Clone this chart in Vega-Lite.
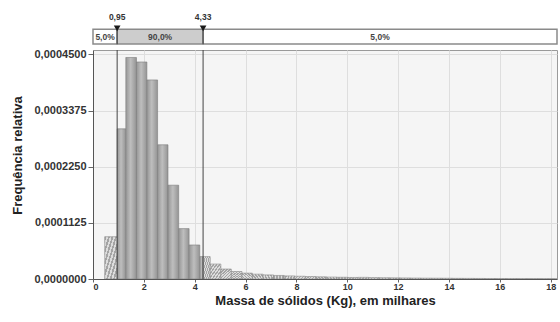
{
  "$schema": "https://vega.github.io/schema/vega-lite/v6.json",
  "padding": {"left": 11, "top": 5, "right": 0, "bottom": 0},
  "background": "white",
  "spacing": 2,
  "config": {
    "font": "Liberation Sans",
    "view": {"stroke": null},
    "axis": {"labelColor": "#333", "titleColor": "#222", "tickColor": "#666", "domainColor": "#555", "gridColor": "#dedede", "labelFontWeight": "bold"}
  },
  "datasets": {
    "bars": [
      {"x0": 0.46, "x1": 0.95, "freq": 0.0000848, "zone": "out"},
      {"x0": 0.95, "x1": 1.29, "freq": 0.000301, "zone": "in"},
      {"x0": 1.29, "x1": 1.71, "freq": 0.000444, "zone": "in"},
      {"x0": 1.71, "x1": 2.12, "freq": 0.000435, "zone": "in"},
      {"x0": 2.12, "x1": 2.54, "freq": 0.000399, "zone": "in"},
      {"x0": 2.54, "x1": 2.95, "freq": 0.000269, "zone": "in"},
      {"x0": 2.95, "x1": 3.37, "freq": 0.000188, "zone": "in"},
      {"x0": 3.37, "x1": 3.78, "freq": 0.000101, "zone": "in"},
      {"x0": 3.78, "x1": 4.20, "freq": 0.0000682, "zone": "in"},
      {"x0": 4.20, "x1": 4.33, "freq": 0.0000449, "zone": "in"},
      {"x0": 4.33, "x1": 4.61, "freq": 0.0000449, "zone": "out"},
      {"x0": 4.61, "x1": 5.03, "freq": 0.0000300, "zone": "out"},
      {"x0": 5.03, "x1": 5.44, "freq": 0.0000200, "zone": "out"},
      {"x0": 5.44, "x1": 5.86, "freq": 0.0000150, "zone": "out"},
      {"x0": 5.86, "x1": 6.27, "freq": 0.0000118, "zone": "out"},
      {"x0": 6.27, "x1": 6.69, "freq": 0.0000097, "zone": "out"},
      {"x0": 6.69, "x1": 7.10, "freq": 0.0000082, "zone": "out"},
      {"x0": 7.10, "x1": 7.52, "freq": 0.0000071, "zone": "out"},
      {"x0": 7.52, "x1": 7.93, "freq": 0.0000062, "zone": "out"},
      {"x0": 7.93, "x1": 8.35, "freq": 0.0000055, "zone": "out"},
      {"x0": 8.35, "x1": 8.76, "freq": 0.0000049, "zone": "out"},
      {"x0": 8.76, "x1": 9.18, "freq": 0.0000044, "zone": "out"},
      {"x0": 9.18, "x1": 9.59, "freq": 0.0000039, "zone": "out"},
      {"x0": 9.59, "x1": 10.01, "freq": 0.0000035, "zone": "out"},
      {"x0": 10.01, "x1": 10.42, "freq": 0.0000031, "zone": "out"},
      {"x0": 10.42, "x1": 10.84, "freq": 0.0000033, "zone": "out"},
      {"x0": 10.84, "x1": 11.25, "freq": 0.0000028, "zone": "out"},
      {"x0": 11.25, "x1": 11.67, "freq": 0.0000025, "zone": "out"},
      {"x0": 11.67, "x1": 12.08, "freq": 0.0000023, "zone": "out"},
      {"x0": 12.08, "x1": 12.50, "freq": 0.0000021, "zone": "out"},
      {"x0": 12.50, "x1": 12.91, "freq": 0.0000019, "zone": "out"},
      {"x0": 12.91, "x1": 13.33, "freq": 0.0000017, "zone": "out"},
      {"x0": 13.33, "x1": 13.74, "freq": 0.0000016, "zone": "out"},
      {"x0": 13.74, "x1": 14.16, "freq": 0.0000015, "zone": "out"},
      {"x0": 14.16, "x1": 14.57, "freq": 0.0000013, "zone": "out"},
      {"x0": 14.57, "x1": 14.99, "freq": 0.0000012, "zone": "out"},
      {"x0": 14.99, "x1": 15.40, "freq": 0.0000011, "zone": "out"},
      {"x0": 15.40, "x1": 15.82, "freq": 0.0000010, "zone": "out"},
      {"x0": 15.82, "x1": 16.23, "freq": 0.0000009, "zone": "out"},
      {"x0": 16.23, "x1": 16.65, "freq": 0.0000009, "zone": "out"},
      {"x0": 16.65, "x1": 17.06, "freq": 0.0000008, "zone": "out"},
      {"x0": 17.06, "x1": 17.48, "freq": 0.0000007, "zone": "out"},
      {"x0": 17.48, "x1": 17.89, "freq": 0.0000007, "zone": "out"},
      {"x0": 17.89, "x1": 18.25, "freq": 0.0000006, "zone": "out"}
    ],
    "band": [
      {"start": 0, "end": 0.95, "zone": "out", "label": "5,0%"},
      {"start": 0.95, "end": 4.33, "zone": "in", "label": "90,0%"},
      {"start": 4.33, "end": 18.25, "zone": "out", "label": "5,0%"}
    ],
    "cuts": [
      {"value": 0.95, "label": "0,95"},
      {"value": 4.33, "label": "4,33"}
    ]
  },
  "vconcat": [
    {
      "width": 464,
      "height": 39,
      "layer": [
        {
          "data": {"name": "band"},
          "mark": {"type": "rect", "stroke": "#8a8a8a", "strokeWidth": 1.5},
          "encoding": {
            "x": {"field": "start", "type": "quantitative", "scale": {"domain": [0, 18.25], "nice": false}, "axis": null},
            "x2": {"field": "end"},
            "y": {"datum": 0, "type": "quantitative", "scale": {"domain": [0, 1]}, "axis": null},
            "y2": {"datum": 0.377},
            "fill": {"field": "zone", "type": "nominal", "scale": {"domain": ["out", "in"], "range": ["#ffffff", "#cdcdcd"]}, "legend": null}
          }
        },
        {
          "data": {"name": "band"},
          "transform": [{"calculate": "(datum.start + datum.end) / 2", "as": "mid"}],
          "mark": {"type": "text", "fontSize": 8.5, "fontWeight": "bold", "color": "#444"},
          "encoding": {
            "x": {"field": "mid", "type": "quantitative"},
            "y": {"datum": 0.19, "type": "quantitative"},
            "text": {"field": "label"}
          }
        },
        {
          "data": {"name": "cuts"},
          "mark": {"type": "rule", "color": "#444", "strokeWidth": 1},
          "encoding": {
            "x": {"field": "value", "type": "quantitative"},
            "y": {"datum": 0, "type": "quantitative"},
            "y2": {"datum": 0.4}
          }
        },
        {
          "data": {"name": "cuts"},
          "mark": {"type": "point", "shape": "triangle-down", "filled": true, "color": "#1a1a1a", "size": 45, "opacity": 1},
          "encoding": {
            "x": {"field": "value", "type": "quantitative"},
            "y": {"datum": 0.4, "type": "quantitative"}
          }
        },
        {
          "data": {"name": "cuts"},
          "mark": {"type": "text", "fontSize": 8.5, "fontWeight": "bold", "color": "#333"},
          "encoding": {
            "x": {"field": "value", "type": "quantitative"},
            "y": {"datum": 0.69, "type": "quantitative"},
            "text": {"field": "label"}
          }
        }
      ]
    },
    {
      "width": 464,
      "height": 229,
      "view": {"fill": "#f5f5f5", "stroke": "#9a9a9a"},
      "layer": [
        {
          "data": {"name": "bars"},
          "transform": [{"filter": "datum.zone === 'in'"}],
          "mark": {"type": "rect", "clip": true, "stroke": "#7c7c7c", "strokeWidth": 0.6,
            "color": {"gradient": "linear", "x1": 0, "x2": 1, "y1": 0, "y2": 0,
              "stops": [{"offset": 0, "color": "#969696"}, {"offset": 0.45, "color": "#bebebe"}, {"offset": 1, "color": "#949494"}]}},
          "encoding": {
            "x": {"field": "x0", "type": "quantitative", "scale": {"domain": [0, 18.25], "nice": false},
              "axis": {"values": [0, 2, 4, 6, 8, 10, 12, 14, 16, 18], "grid": true, "title": "Massa de sólidos (Kg), em milhares",
                "titleFontSize": 13, "titleFontWeight": "bold", "titlePadding": 3, "labelFontSize": 9, "tickSize": 3, "labelPadding": 0}},
            "x2": {"field": "x1"},
            "y": {"field": "freq", "type": "quantitative", "scale": {"domain": [0, 0.000459], "nice": false},
              "axis": {"values": [0, 0.0001125, 0.000225, 0.0003375, 0.00045], "grid": true,
                "labelExpr": "replace(format(datum.value, '.7f'), '.', ',')", "labelFontSize": 11, "tickSize": 5, "labelPadding": 2,
                "title": "Frequência relativa", "titleFontSize": 13, "titleFontWeight": "bold", "titlePadding": 9.5, "titleY": 105}},
            "y2": {"datum": 0}
          }
        },
        {
          "data": {"name": "bars"},
          "transform": [{"filter": "datum.zone === 'out'"}],
          "mark": {"type": "rect", "clip": true, "stroke": "#8a8a8a", "strokeWidth": 0.6,
            "color": {"gradient": "linear", "x1": 0, "y1": 0, "x2": 1, "y2": 1,
              "stops": [
                {"offset": 0, "color": "#a4a4a4"}, {"offset": 0.07, "color": "#a4a4a4"}, {"offset": 0.07, "color": "#dcdcdc"}, {"offset": 0.14, "color": "#dcdcdc"},
                {"offset": 0.14, "color": "#a4a4a4"}, {"offset": 0.21, "color": "#a4a4a4"}, {"offset": 0.21, "color": "#dcdcdc"}, {"offset": 0.28, "color": "#dcdcdc"},
                {"offset": 0.28, "color": "#a4a4a4"}, {"offset": 0.35, "color": "#a4a4a4"}, {"offset": 0.35, "color": "#dcdcdc"}, {"offset": 0.42, "color": "#dcdcdc"},
                {"offset": 0.42, "color": "#a4a4a4"}, {"offset": 0.49, "color": "#a4a4a4"}, {"offset": 0.49, "color": "#dcdcdc"}, {"offset": 0.56, "color": "#dcdcdc"},
                {"offset": 0.56, "color": "#a4a4a4"}, {"offset": 0.63, "color": "#a4a4a4"}, {"offset": 0.63, "color": "#dcdcdc"}, {"offset": 0.70, "color": "#dcdcdc"},
                {"offset": 0.70, "color": "#a4a4a4"}, {"offset": 0.77, "color": "#a4a4a4"}, {"offset": 0.77, "color": "#dcdcdc"}, {"offset": 0.84, "color": "#dcdcdc"},
                {"offset": 0.84, "color": "#a4a4a4"}, {"offset": 0.91, "color": "#a4a4a4"}, {"offset": 0.91, "color": "#dcdcdc"}, {"offset": 1, "color": "#dcdcdc"}
              ]}},
          "encoding": {
            "x": {"field": "x0", "type": "quantitative"},
            "x2": {"field": "x1"},
            "y": {"field": "freq", "type": "quantitative"},
            "y2": {"datum": 0}
          }
        },
        {
          "data": {"name": "cuts"},
          "mark": {"type": "rule", "color": "#444", "strokeWidth": 1},
          "encoding": {
            "x": {"field": "value", "type": "quantitative"}
          }
        }
      ]
    }
  ]
}
